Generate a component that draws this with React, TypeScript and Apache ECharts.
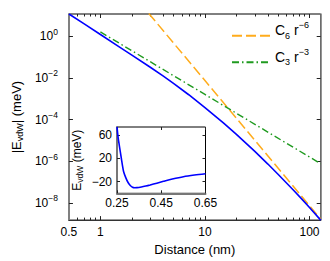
import React, { useEffect, useRef } from 'react';
import * as echarts from 'echarts';

// Main plot: |E_vdW| vs distance (nm)
const R_MAIN = [0.5, 0.7, 1, 1.5, 2, 3, 4, 5, 7, 10, 15, 20, 30, 40, 50, 70, 85, 100, 128];
const E_MAIN = [11.6, 3.92, 1.21, 0.318, 0.123, 0.0323, 0.0121, 5.46e-3, 1.55e-3, 3.77e-4, 6.88e-5, 1.93e-5, 2.95e-6, 7.33e-7, 2.39e-7, 4.17e-8, 1.48e-8, 6.07e-9, 1.5e-9];

// C6 r^-6 asymptote
const R_C6 = [2.9, 10, 100, 128];
const E_C6 = [12.4, 7.4e-3, 7.4e-9, 1.68e-9];

// C3 r^-3 asymptote
const R_C3 = [1, 10, 100, 128];
const E_C3 = [1.6, 1.6e-3, 1.6e-6, 7.6e-7];

// Inset: E_vdW (meV) vs distance (nm)
const R_INSET = [0.25, 0.255, 0.26, 0.265, 0.27, 0.275, 0.28, 0.29, 0.3, 0.31, 0.32, 0.33, 0.34, 0.36, 0.38, 0.4, 0.43, 0.46, 0.5, 0.55, 0.6, 0.65];
const E_INSET = [74, 56, 43, 31, 19, 7, -3, -13.5, -21.5, -26.5, -29.5, -30.4, -30.3, -29.2, -27.6, -25.7, -22.6, -19.5, -15.6, -11.5, -8.7, -6.5];

// Ticks
const X_LABELS = [0.5, 1, 10, 100];
const X_MAJOR = [1, 10, 100];
const X_MINOR = [0.6, 0.7, 0.8, 0.9, 2, 3, 4, 5, 6, 7, 8, 9, 20, 30, 40, 50, 60, 70, 80, 90];
const Y_MAJOR = [1e-8, 1e-6, 1e-4, 1e-2, 1];
const INSET_Y_TICKS = [-20, 20, 60];

const FONT = '"Liberation Sans", Arial, Helvetica, sans-serif';

const X_MIN = 0.5;
const X_MAX = 128;
const Y_MIN = 1.5e-9;
const Y_MAX = 11.6;

const pairs = (xs: number[], ys: number[]) => xs.map((x, i) => [x, ys[i]]);

const supLabel = (v: number) => {
  const e = Math.round(Math.log10(v));
  const s = e < 0 ? '\u2212' + -e : String(e);
  return `{b|10}{s|${s}}`;
};

const legendText = (n: string) =>
  n === 'C6' ? '{n|C}{sub|6}{n| r}{sup|\u22126}' : '{n|C}{sub|3}{n| r}{sup|\u22123}';

const legendRich = {
  n: { fontSize: 14, padding: [0, 0, 11.4, 0], fontFamily: FONT, color: '#000' },
  sub: { fontSize: 9, fontFamily: FONT, color: '#000' },
  sup: { fontSize: 9, padding: [0, 0, 21.6, 0], fontFamily: FONT, color: '#000' },
};

export default function App() {
  const ref = useRef<HTMLDivElement>(null);
  useEffect(() => {
    if (!ref.current) return;
    const chart = echarts.init(ref.current, undefined, { renderer: 'svg' });
    const tickStyle = { color: '#222', width: 1 };
    const mainX = (extra: any) => ({
      type: 'log',
      logBase: 10,
      gridIndex: 0,
      min: X_MIN,
      max: X_MAX,
      splitLine: { show: false },
      axisLine: { show: false, onZero: false },
      axisLabel: { show: false },
      axisTick: { show: false },
      ...extra,
    });
    const legendBase = (name: string, top: number) => ({
      data: [name],
      orient: 'vertical',
      left: 231,
      top,
      padding: 0,
      itemWidth: 38,
      itemHeight: 14,
      itemStyle: { color: 'rgba(0,0,0,0)', borderWidth: 0, opacity: 0 },
      formatter: legendText,
      textStyle: { fontFamily: FONT, fontSize: 14, color: '#000', rich: legendRich },
    });
    const option: any = {
      animation: false,
      backgroundColor: '#fff',
      textStyle: { fontFamily: FONT },
      grid: [
        { left: 56, top: 14, right: 9.3, bottom: 36, show: true, borderColor: '#000', borderWidth: 1, backgroundColor: 'transparent' },
        { left: 117, top: 127, width: 88.5, height: 66.3, show: true, borderColor: '#000', borderWidth: 1, backgroundColor: '#fff', z: 3 },
      ],
      legend: [legendBase('C6', 20.4), legendBase('C3', 47)],
      xAxis: [
        mainX({
          position: 'bottom',
          axisLine: { show: true, onZero: false, lineStyle: { color: '#333', width: 1 } },
          axisTick: { show: true, inside: true, length: 4, lineStyle: tickStyle, customValues: X_MAJOR },
          axisLabel: {
            show: true,
            customValues: X_LABELS,
            fontSize: 12,
            color: '#000',
            margin: 6,
            fontFamily: FONT,
            showMinLabel: true,
            formatter: (v: number) => String(Math.round(v * 100) / 100),
          },
          name: 'Distance (nm)',
          nameLocation: 'middle',
          nameGap: 20,
          nameTextStyle: { fontSize: 13, color: '#000', fontFamily: FONT },
        }),
        mainX({ position: 'bottom', axisTick: { show: true, inside: true, length: 2.5, lineStyle: tickStyle, customValues: X_MINOR } }),
        mainX({ position: 'top', axisTick: { show: true, inside: true, length: 4, lineStyle: tickStyle, customValues: X_MAJOR } }),
        mainX({ position: 'top', axisTick: { show: true, inside: true, length: 2.5, lineStyle: tickStyle, customValues: X_MINOR } }),
        {
          type: 'value',
          gridIndex: 1,
          position: 'bottom',
          min: 0.25,
          max: 0.65,
          interval: 0.2,
          splitLine: { show: false },
          axisLine: { show: true, onZero: false, lineStyle: { color: '#777', width: 2 } },
          axisTick: { show: true, inside: true, length: 3, lineStyle: tickStyle },
          axisLabel: { fontSize: 12, color: '#000', margin: 4, fontFamily: FONT, formatter: (v: number) => v.toFixed(2) },
          z: 4,
        },
        {
          type: 'value',
          gridIndex: 1,
          position: 'top',
          min: 0.25,
          max: 0.65,
          interval: 0.2,
          splitLine: { show: false },
          axisLine: { show: false, onZero: false },
          axisTick: { show: true, inside: true, length: 3, lineStyle: tickStyle },
          axisLabel: { show: false },
          z: 4,
        },
      ],
      yAxis: [
        {
          type: 'log',
          logBase: 10,
          gridIndex: 0,
          position: 'left',
          min: Y_MIN,
          max: Y_MAX,
          splitLine: { show: false },
          axisLine: { show: true, onZero: false, lineStyle: { color: '#808080', width: 2 } },
          axisTick: { show: true, inside: true, length: 4, lineStyle: tickStyle, customValues: Y_MAJOR },
          axisLabel: {
            customValues: Y_MAJOR,
            margin: 11,
            formatter: supLabel,
            rich: {
              b: { fontSize: 12, lineHeight: 18, fontFamily: FONT, color: '#000' },
              s: { fontSize: 8.5, verticalAlign: 'top', fontFamily: FONT, color: '#000' },
            },
          },
          name: '|E{sub|vdW}| (meV)',
          nameLocation: 'middle',
          nameGap: 34,
          nameTextStyle: {
            fontSize: 13,
            lineHeight: 16,
            color: '#000',
            fontFamily: FONT,
            rich: { sub: { fontSize: 9, verticalAlign: 'bottom', fontFamily: FONT, color: '#000' } },
          },
        },
        {
          type: 'log',
          logBase: 10,
          gridIndex: 0,
          position: 'right',
          min: Y_MIN,
          max: Y_MAX,
          splitLine: { show: false },
          axisLine: { show: true, onZero: false, lineStyle: { color: '#808080', width: 1.5 } },
          axisTick: { show: true, inside: true, length: 4, lineStyle: tickStyle, customValues: Y_MAJOR },
          axisLabel: { show: false },
        },
        {
          type: 'value',
          gridIndex: 1,
          position: 'left',
          min: -40,
          max: 73.7,
          splitLine: { show: false },
          axisLine: { show: true, onZero: false, lineStyle: { color: '#777', width: 2 } },
          axisTick: { show: true, inside: true, length: 3, lineStyle: tickStyle, customValues: INSET_Y_TICKS },
          axisLabel: {
            customValues: INSET_Y_TICKS,
            fontSize: 12,
            color: '#000',
            margin: 5,
            fontFamily: FONT,
            formatter: (v: number) => String(v).replace('-', '\u2212'),
          },
          name: 'E{sub|vdW} (meV)',
          nameLocation: 'middle',
          nameGap: 33,
          nameTextStyle: {
            fontSize: 12,
            lineHeight: 14,
            color: '#000',
            fontFamily: FONT,
            rich: { sub: { fontSize: 8.5, verticalAlign: 'bottom', fontFamily: FONT, color: '#000' } },
          },
          z: 4,
        },
        {
          type: 'value',
          gridIndex: 1,
          position: 'right',
          min: -40,
          max: 73.7,
          splitLine: { show: false },
          axisLine: { show: false, onZero: false },
          axisTick: { show: true, inside: true, length: 3, lineStyle: tickStyle, customValues: INSET_Y_TICKS },
          axisLabel: { show: false },
          z: 4,
        },
      ],
      series: [
        {
          name: 'E',
          type: 'line',
          xAxisIndex: 0,
          yAxisIndex: 0,
          data: pairs(R_MAIN, E_MAIN),
          symbol: 'none',
          lineStyle: { color: '#0000ff', width: 1.6 },
          itemStyle: { color: '#0000ff' },
          z: 3,
        },
        {
          name: 'C6',
          type: 'line',
          xAxisIndex: 0,
          yAxisIndex: 0,
          data: pairs(R_C6, E_C6),
          symbol: 'none',
          lineStyle: { color: '#ffac1c', width: 1.5, type: [10, 4] },
          itemStyle: { color: '#ffac1c' },
          z: 2,
        },
        {
          name: 'C3',
          type: 'line',
          xAxisIndex: 0,
          yAxisIndex: 0,
          data: pairs(R_C3, E_C3),
          symbol: 'none',
          lineStyle: { color: '#1f9a1f', width: 1.4, type: [7, 3, 1.5, 3] },
          itemStyle: { color: '#1f9a1f' },
          z: 2,
        },
        {
          name: 'inset',
          type: 'line',
          xAxisIndex: 4,
          yAxisIndex: 2,
          data: pairs(R_INSET, E_INSET),
          symbol: 'none',
          smooth: 0.3,
          lineStyle: { color: '#0000ff', width: 1.6 },
          itemStyle: { color: '#0000ff' },
          z: 5,
        },
      ],
    };
    chart.setOption(option);
    return () => chart.dispose();
  }, []);
  return <div ref={ref} style={{ position: 'fixed', left: 0, top: 0, width: 330, height: 261 }} />;
}
